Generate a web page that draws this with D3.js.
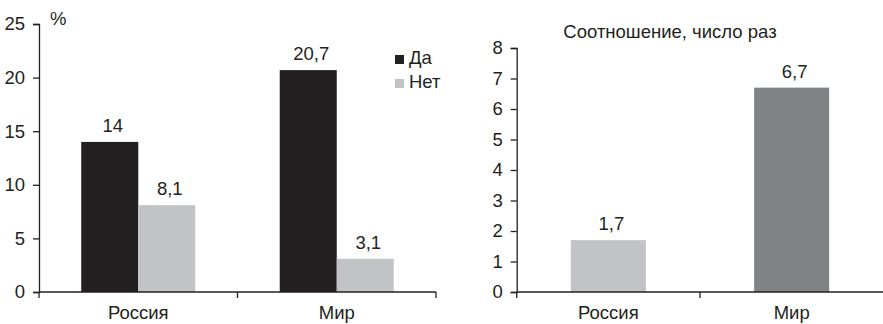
<!DOCTYPE html>
<html><head><meta charset="utf-8">
<script src="https://cdn.jsdelivr.net/npm/d3@7"></script>
<style>body{margin:0;background:#fff}svg{display:block}text{font-family:"Liberation Sans",Arial,sans-serif;fill:#231f20}</style>
</head><body><svg id="c" width="883" height="324"></svg>
<script>
const categories = ["Россия", "Мир"];
const seriesNames = ["Да", "Нет"];
const daValues = [14, 20.7];
const netValues = [8.1, 3.1];
const ratioValues = [1.7, 6.7];
const leftTicks = [0, 5, 10, 15, 20, 25];
const rightTicks = [0, 1, 2, 3, 4, 5, 6, 7, 8];
const colors = {"Да": "#231f20", "Нет": "#c2c3c6"};
const ratioColors = ["#c2c3c6", "#808184"];

const svg = d3.select("#c");
const fmt = v => String(v).replace(".", ",");
const FS = 18.5;

// LEFT CHART
const L = {x0: 39, x1: 436, y0: 292, y1: 24};
const xL = d3.scaleBand().domain(categories).range([L.x0, L.x1]).paddingInner(0).paddingOuter(0);
const yL = d3.scaleLinear().domain([0, 25]).range([L.y0, L.y1]);
const x2 = d3.scaleBand().domain(seriesNames).range([0, 114]);
const gL = svg.append("g");
const groupOffset = (xL.bandwidth() - 114) / 2;
const rows = categories.map((c, i) => ({c, vals: [{s: "Да", v: daValues[i]}, {s: "Нет", v: netValues[i]}]}));
rows.forEach(r => {
  r.vals.forEach(d => {
    const bx = xL(r.c) + groupOffset + x2(d.s);
    gL.append("rect").attr("x", bx).attr("y", yL(d.v)).attr("width", x2.bandwidth()).attr("height", yL(0) - yL(d.v)).attr("fill", colors[d.s]);
    gL.append("text").attr("x", bx + x2.bandwidth() / 2 + 3).attr("y", yL(d.v) - 10).attr("text-anchor", "middle").attr("font-size", FS).text(fmt(d.v));
  });
});
const yAxL = gL.append("g").attr("transform", `translate(${L.x0},0)`).call(d3.axisLeft(yL).tickValues(leftTicks).tickSize(6).tickPadding(8));
const xAxL = gL.append("g").attr("transform", `translate(0,${L.y0})`).call(d3.axisBottom(xL).tickSize(0).tickPadding(14));
[L.x0, xL("Мир"), L.x1].forEach(x => gL.append("line").attr("x1", x).attr("x2", x).attr("y1", L.y0).attr("y2", L.y0 + 6).attr("stroke", "#231f20").attr("stroke-width", 1.3));
gL.append("text").attr("x", 50).attr("y", 25).attr("font-size", FS).text("%");
seriesNames.forEach((s, i) => {
  const ly = 55 + i * 24;
  gL.append("rect").attr("x", 395).attr("y", ly).attr("width", 9).attr("height", 9).attr("fill", colors[s]);
  gL.append("text").attr("x", 409).attr("y", ly + 9).attr("font-size", FS).text(s);
});

// RIGHT CHART
const R = {x0: 516.7, x1: 883, y0: 292, y1: 48};
const xR = d3.scaleBand().domain(categories).range([R.x0, R.x0 + 2 * 183.3]).paddingInner(0).paddingOuter(0);
const yR = d3.scaleLinear().domain([0, 8]).range([R.y0, R.y1]);
const gR = svg.append("g");
const bwR = 75;
categories.forEach((c, i) => {
  const bx = xR(c) + (xR.bandwidth() - bwR) / 2;
  gR.append("rect").attr("x", bx).attr("y", yR(ratioValues[i])).attr("width", bwR).attr("height", yR(0) - yR(ratioValues[i])).attr("fill", ratioColors[i]);
  gR.append("text").attr("x", bx + bwR / 2 + 3).attr("y", yR(ratioValues[i]) - 10).attr("text-anchor", "middle").attr("font-size", FS).text(fmt(ratioValues[i]));
});
gR.append("g").attr("transform", `translate(${R.x0},0)`).call(d3.axisLeft(yR).tickValues(rightTicks).tickSize(6).tickPadding(8));
const xAxR = gR.append("g").attr("transform", `translate(0,${R.y0})`).call(d3.axisBottom(xR).tickSize(0).tickPadding(14));
[R.x0, xR("Мир")].forEach(x => gR.append("line").attr("x1", x).attr("x2", x).attr("y1", R.y0).attr("y2", R.y0 + 6).attr("stroke", "#231f20").attr("stroke-width", 1.3));
gR.append("text").attr("x", 670).attr("y", 38).attr("text-anchor", "middle").attr("font-size", FS).text("Соотношение, число раз");

svg.selectAll(".domain").attr("stroke", "#231f20").attr("stroke-width", 1.3);
svg.selectAll(".tick line").attr("stroke", "#231f20").attr("stroke-width", 1.3);
svg.selectAll(".tick text").attr("font-size", FS).attr("fill", "#231f20").attr("font-family", '"Liberation Sans",Arial,sans-serif');
xAxL.select(".domain").attr("d", `M${L.x0},0H${L.x1}`);
xAxR.select(".domain").attr("d", `M${R.x0},0H${R.x1}`);
</script></body></html>
